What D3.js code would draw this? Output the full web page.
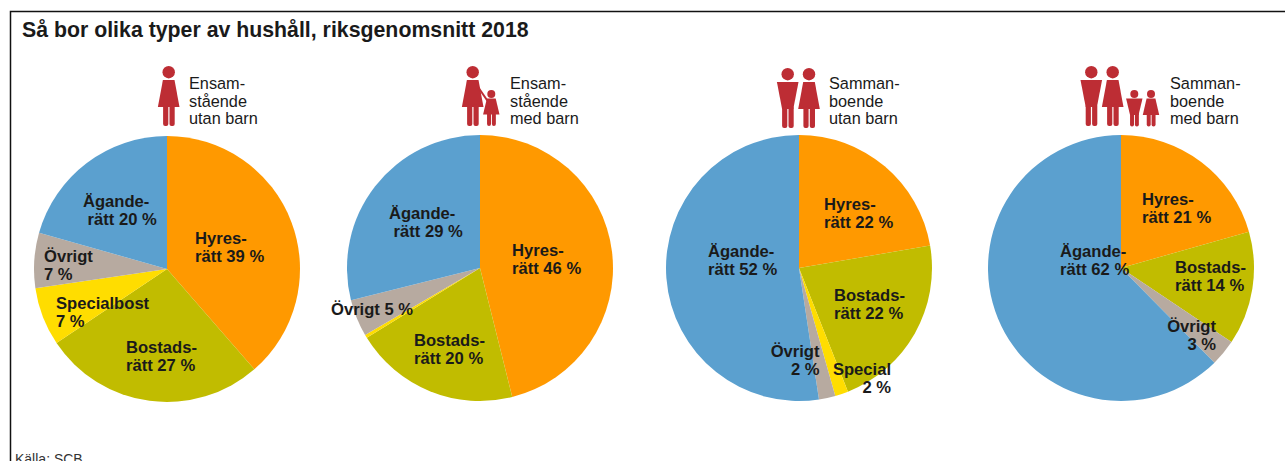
<!DOCTYPE html>
<html>
<head>
<meta charset="utf-8">
<script src="https://cdn.jsdelivr.net/npm/d3@7"></script>
<style>
html, body { margin: 0; padding: 0; background: #fff; overflow: hidden; }
svg { display: block; }
text { font-family: "Liberation Sans", sans-serif; fill: #1a1a1a; }
</style>
</head>
<body>
<div class="render"></div>
<script>
'use strict';

var categories = ['Hyresrätt', 'Bostadsrätt', 'Specialbostad', 'Övrigt', 'Äganderätt'];
var ensamUtan = [38.6, 27, 7.1, 6.7, 20.6];
var ensamMed = [46.1, 20.1, 0.4, 4.5, 28.9];
var sammanUtan = [22.3, 21.7, 1.6, 2, 52.4];
var sammanMed = [20.6, 13.8, 0, 3.2, 62.4];
var colors = ['#ff9900', '#c1bc00', '#ffdd00', '#b7aaa0', '#5ba0cf'];

var titleText = 'Så bor olika typer av hushåll, riksgenomsnitt 2018';
var sourceText = 'Källa: SCB';
var headings = [
   ['Ensam-', 'stående', 'utan barn'],
   ['Ensam-', 'stående', 'med barn'],
   ['Samman-', 'boende', 'utan barn'],
   ['Samman-', 'boende', 'med barn']
];
var seriesList = [ensamUtan, ensamMed, sammanUtan, sammanMed];

// layout, separate from the values
var w = 1285, h = 461, r = 133;
var pieX = [167, 480, 799, 1121];
var pieY = [269, 268, 268, 268];
var headX = [189, 510, 829, 1170];

// [x, first baseline, anchor, lines]
var labels = [
   [[195, 244, 'start', ['Hyres-', 'rätt 39 %']],
    [83, 207, 'start', ['Ägande-', ' rätt 20 %']],
    [44, 262, 'start', ['Övrigt', '7 %']],
    [56, 309, 'start', ['Specialbost', '7 %']],
    [126, 353, 'start', ['Bostads-', 'rätt 27 %']]],
   [[512, 256, 'start', ['Hyres-', 'rätt 46 %']],
    [389, 219, 'start', ['Ägande-', ' rätt 29 %']],
    [331, 315, 'start', ['Övrigt 5 %']],
    [414, 346, 'start', ['Bostads-', 'rätt 20 %']]],
   [[824, 210, 'start', ['Hyres-', 'rätt 22 %']],
    [834, 301, 'start', ['Bostads-', 'rätt 22 %']],
    [708, 257, 'start', ['Ägande-', 'rätt 52 %']],
    [819.5, 357, 'end', ['Övrigt', '2 %']],
    [891, 375, 'end', ['Special', '2 %']]],
   [[1142, 205, 'start', ['Hyres-', 'rätt 21 %']],
    [1175, 273, 'start', ['Bostads-', 'rätt 14 %']],
    [1060, 257, 'start', ['Ägande-', 'rätt 62 %']],
    [1216, 332, 'end', ['Övrigt', '3 %']]]
];

// figures: kind, centre x, top y, width scale, height scale
var figures = [
   [['w', 168.7, 66, 1, 1]],
   [['w', 472.7, 66, 1, 1], ['w', 491.3, 90, 0.76, 0.6]],
   [['m', 787.7, 68, 1, 1], ['w', 809, 68, 1, 1]],
   [['m', 1091.3, 66, 1, 1], ['w', 1112.7, 66, 1, 1], ['m', 1134.3, 90, 0.76, 0.61], ['w', 1151, 90, 0.76, 0.61]]
];

var svg = d3.select('.render').append('svg').attr('width', w).attr('height', h);

svg.append('path').attr('d', 'M1285,11.5H10.5V461').attr('fill', 'none').attr('stroke', '#111').attr('stroke-width', 1.5);
svg.append('text').text(titleText).attr('x', 22).attr('y', 37).style('font-size', '21.3px').style('font-weight', 'bold');
svg.append('text').text(sourceText).attr('x', 15).attr('y', 464).style('font-size', '14px').style('fill', '#333');

var pie = d3.pie().sort(null);
var arc = d3.arc().innerRadius(0).outerRadius(r);

seriesList.forEach(function (values, i) {
   var g = svg.append('g').attr('transform', 'translate(' + pieX[i] + ',' + pieY[i] + ')');
   g.selectAll('path').data(pie(values)).enter().append('path')
      .attr('d', arc)
      .attr('fill', function (d, j) { return colors[j]; });
});

function person(g, f) {
   var kind = f[0], sx = f[3], sy = f[4];
   var p = g.append('g').attr('transform', 'translate(' + f[1] + ',' + f[2] + ')').attr('fill', '#bd2d34');
   var hr = sy === 1 ? 6.2 : 4;
   p.append('circle').attr('cx', 0).attr('cy', hr).attr('r', hr);
   var top = 14 * sy, low = 41 * sy, end = 60 * sy;
   if (kind === 'w') {
      p.append('path').attr('d', 'M' + (-5.8 * sx) + ',' + top + 'H' + (5.8 * sx) + 'L' + (10.8 * sx) + ',' + low + 'H' + (-10.8 * sx) + 'Z');
   } else {
      p.append('path').attr('d', 'M' + (-10.8 * sx) + ',' + top + 'H' + (10.8 * sx) + 'L' + (5.6 * sx) + ',' + low + 'H' + (-5.6 * sx) + 'Z');
   }
   p.append('rect').attr('x', -5.6 * sx).attr('y', low - 3).attr('width', 5.2 * sx).attr('height', end - low + 3).attr('rx', 2);
   p.append('rect').attr('x', 0.8 * sx).attr('y', low - 3).attr('width', 5.2 * sx).attr('height', end - low + 3).attr('rx', 2);
}

figures.forEach(function (list, i) {
   var g = svg.append('g');
   list.forEach(function (f) { person(g, f); });
   if (i === 1) {
      g.append('path').attr('d', 'M478,87L489,103').attr('stroke', '#bd2d34').attr('stroke-width', 2).attr('fill', 'none');
   }
   var t = svg.append('text').style('font-size', '16.3px');
   headings[i].forEach(function (line, k) {
      t.append('tspan').attr('x', headX[i]).attr('y', 89 + k * 17.5).text(line);
   });
});

labels.forEach(function (list) {
   list.forEach(function (l) {
      var t = svg.append('text').attr('text-anchor', l[2]).style('font-size', '16.6px').style('font-weight', 'bold').style('white-space', 'pre');
      l[3].forEach(function (line, k) {
         t.append('tspan').attr('x', l[0]).attr('y', l[1] + k * 18.3).text(line);
      });
   });
});
</script>
</body>
</html>
